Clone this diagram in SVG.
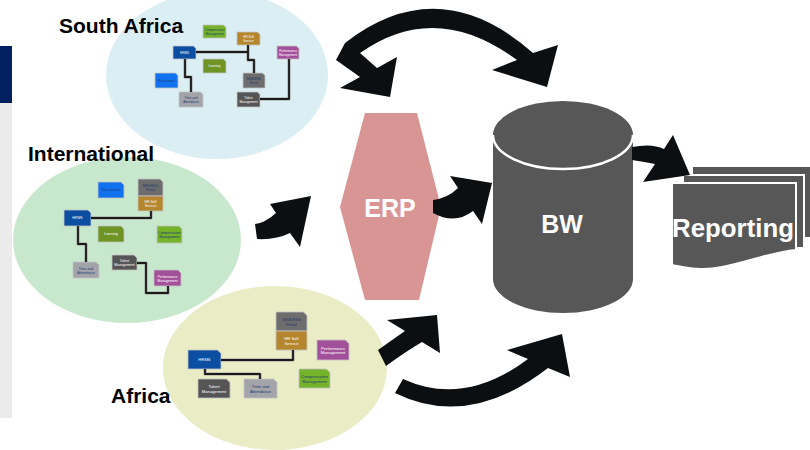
<svg xmlns="http://www.w3.org/2000/svg" width="810" height="450" viewBox="0 0 810 450">
  <style>
    .lbl { font-family: "Liberation Sans", Arial, sans-serif; font-weight: bold; font-size: 21px; fill: #000; }
    .big { font-family: "Liberation Sans", Arial, sans-serif; font-weight: bold; font-size: 25px; fill: #fff; text-anchor: middle; }
    .rep { font-size: 25.8px; }
    .box { stroke: #c4c4c4; stroke-width: 0.8; }
    .t { font-family: "Liberation Sans", Arial, sans-serif; text-anchor: middle; }
    .s1 { font-size: 3.1px; }
    .s2 { font-size: 3.5px; }
    .s3 { font-size: 4.2px; }
    .lt { fill: #ffffff; }
    .dk { fill: #1f3a70; }
    .hrms { fill: #0b4ea2; }
    .recr { fill: #1172f0; }
    .learn { fill: #6e9424; }
    .comp { fill: #74b32a; }
    .hrss { fill: #b5862e; }
    .mss { fill: #6d6d6d; }
    .perf { fill: #a3509a; }
    .talent { fill: #555555; }
    .time { fill: #a2a4aa; }
    .halo { fill: none; stroke: #9a9a9a; stroke-width: 3; stroke-linejoin: round; }
    .wire { fill: none; stroke: #1a1a1a; stroke-width: 1.8; stroke-linejoin: round; }
    .arrow { fill: #0c0f11; }
    .page { fill: #575757; stroke: #ffffff; stroke-width: 2; }
  </style>

  <!-- side bar -->
  <rect x="0" y="46" width="12" height="57" fill="#002060"/>
  <rect x="0" y="103" width="12" height="315" fill="#ebebeb"/>

  <!-- regional clusters -->
  <g id="south-africa">
    <ellipse cx="217" cy="75" rx="111" ry="84" fill="#dbeef3"/>
    <text class="lbl" x="59" y="33">South Africa</text>
  </g>
  <g id="international">
    <ellipse cx="127" cy="240" rx="114" ry="83" fill="#c8e8cd"/>
    <text class="lbl" x="28" y="161">International</text>
  </g>
  <g id="africa">
    <ellipse cx="275" cy="368" rx="112" ry="82" fill="#eaecc6"/>
    <text class="lbl" x="111" y="403">Africa</text>
  </g>

  <!-- central systems -->
  <g id="erp">
    <polygon points="365,113 417,113 441,207 419,300 365,300 340,207" fill="#d99594"/>
    <text class="big" x="390" y="217">ERP</text>
  </g>
  <g id="bw">
    <path d="M493,135 V279 A70,34 0 0 0 633,279 V135 A70,34 0 0 0 493,135 Z" fill="#575757"/>
    <path d="M493,135 A70,34 0 0 0 633,135" fill="none" stroke="#ffffff" stroke-width="2.5"/>
    <text class="big" x="562" y="233">BW</text>
  </g>
  <g id="reporting">
    <rect class="page" x="692" y="166" width="122" height="72"/>
    <rect class="page" x="683" y="175" width="121" height="73"/>
    <path class="page" d="M672,183 H796 V250 C772,252 748,262 722,267 C702,271 688,268 672,265 Z"/>
    <text class="big rep" x="733" y="237">Reporting</text>
  </g>

  <!-- South Africa modules -->
  <g id="sa-hrms"><path class="box hrms" d="M173,46 H193.5 L196,48.5 V59 H173 Z"/><text class="t s1 lt" x="184.5" y="53.6">HRMS</text></g>
  <g id="sa-comp"><path class="box comp" d="M203,25 H223.5 L226,27.5 V38 H203 Z"/><text class="t s1 dk" x="214.5" y="31">Compensation</text><text class="t s1 dk" x="214.5" y="34.5">Management</text></g>
  <g id="sa-hrss"><path class="box hrss" d="M237,32 H257.5 L260,34.5 V45 H237 Z"/><text class="t s1 lt" x="248.5" y="38">HR Self</text><text class="t s1 lt" x="248.5" y="41.5">Service</text></g>
  <g id="sa-perf"><path class="box perf" d="M277,46 H296.5 L299,48.5 V59 H277 Z"/><text class="t s1 lt" x="288" y="52">Performance</text><text class="t s1 lt" x="288" y="55.5">Management</text></g>
  <g id="sa-learn"><path class="box learn" d="M203,59 H223.5 L226,61.5 V73 H203 Z"/><text class="t s1 lt" x="214.5" y="67">Learning</text></g>
  <g id="sa-recr"><path class="box recr" d="M155,73 H175.5 L178,75.5 V88 H155 Z"/><text class="t s1 dk" x="166.5" y="81.5">Recruitment</text></g>
  <g id="sa-mss"><path class="box mss" d="M243,73 H262.5 L265,75.5 V88 H243 Z"/><text class="t s1 dk" x="254" y="80">MSS/ESS</text><text class="t s1 dk" x="254" y="83.5">Portal</text></g>
  <g id="sa-time"><path class="box time" d="M179,92 H200.5 L203,94.5 V107 H179 Z"/><text class="t s1 dk" x="191" y="99">Time and</text><text class="t s1 dk" x="191" y="102.5">Attendance</text></g>
  <g id="sa-talent"><path class="box talent" d="M237,92 H257.5 L260,94.5 V107 H237 Z"/><text class="t s1 lt" x="248.5" y="99">Talent</text><text class="t s1 lt" x="248.5" y="102.5">Management</text></g>

  <!-- International modules -->
  <g id="int-recr"><path class="box recr" d="M98,182 H121 L124,185 V198 H98 Z"/><text class="t s2 dk" x="111" y="191.2">Recruitment</text></g>
  <g id="int-mss"><path class="box mss" d="M138,179 H160 L163,182 V196 H138 Z"/><text class="t s2 dk" x="150.5" y="186.5">MSS/ESS</text><text class="t s2 dk" x="150.5" y="190.5">Portal</text></g>
  <g id="int-hrss"><path class="box hrss" d="M138,196 H163 V211 H138 Z"/><text class="t s2 lt" x="150.5" y="203">HR Self</text><text class="t s2 lt" x="150.5" y="207">Service</text></g>
  <g id="int-hrms"><path class="box hrms" d="M64,210 H88 L91,213 V226 H64 Z"/><text class="t s2 lt" x="77.5" y="219.2">HRMS</text></g>
  <g id="int-learn"><path class="box learn" d="M98,226 H121 L124,229 V242 H98 Z"/><text class="t s2 lt" x="111" y="235.2">Learning</text></g>
  <g id="int-comp"><path class="box comp" d="M157,226 H179 L182,229 V243 H157 Z"/><text class="t s2 dk" x="169.5" y="233.5">Compensation</text><text class="t s2 dk" x="169.5" y="237.5">Management</text></g>
  <g id="int-talent"><path class="box talent" d="M112,255 H134 L137,258 V270 H112 Z"/><text class="t s2 lt" x="124.5" y="261.5">Talent</text><text class="t s2 lt" x="124.5" y="265.5">Management</text></g>
  <g id="int-time"><path class="box time" d="M73,262 H96 L99,265 V278 H73 Z"/><text class="t s2 dk" x="86" y="269.5">Time and</text><text class="t s2 dk" x="86" y="273.5">Attendance</text></g>
  <g id="int-perf"><path class="box perf" d="M154,270 H178 L181,273 V286 H154 Z"/><text class="t s2 lt" x="167.5" y="277.5">Performance</text><text class="t s2 lt" x="167.5" y="281.5">Management</text></g>

  <!-- Africa modules -->
  <g id="af-mss"><path class="box mss" d="M276,312 H303.5 L307,315.5 V331 H276 Z"/><text class="t s3 dk" x="291.5" y="321">MSS/ESS</text><text class="t s3 dk" x="291.5" y="325.8">Portal</text></g>
  <g id="af-hrss"><path class="box hrss" d="M276,331 H307 V350 H276 Z"/><text class="t s3 lt" x="291.5" y="340">HR Self</text><text class="t s3 lt" x="291.5" y="344.8">Service</text></g>
  <g id="af-hrms"><path class="box hrms" d="M188,350 H217.5 L221,353.5 V369 H188 Z"/><text class="t s3 lt" x="204.5" y="361">HRMS</text></g>
  <g id="af-perf"><path class="box perf" d="M317,340 H345.5 L349,343.5 V360 H317 Z"/><text class="t s3 lt" x="333" y="349.5">Performance</text><text class="t s3 lt" x="333" y="354.3">Management</text></g>
  <g id="af-comp"><path class="box comp" d="M299,369 H326.5 L330,372.5 V388 H299 Z"/><text class="t s3 dk" x="314.5" y="378">Compensation</text><text class="t s3 dk" x="314.5" y="382.8">Management</text></g>
  <g id="af-talent"><path class="box talent" d="M198,379 H226.5 L230,382.5 V398 H198 Z"/><text class="t s3 lt" x="214" y="388">Talent</text><text class="t s3 lt" x="214" y="392.8">Management</text></g>
  <g id="af-time"><path class="box time" d="M244,379 H273.5 L277,382.5 V398 H244 Z"/><text class="t s3 dk" x="260.5" y="388">Time and</text><text class="t s3 dk" x="260.5" y="392.8">Attendance</text></g>

  <g id="connectors">
    <!-- module links inside each region -->
    <g>
      <path class="halo" d="M196,52 H248 M248,45 V60 H254 V73 M185,59 V77 H191 V92 M260,99 H289 V59"/>
      <path class="wire" d="M196,52 H248 M248,45 V60 H254 V73 M185,59 V77 H191 V92 M260,99 H289 V59"/>
      <path class="halo" d="M91,218 H151 V211 M78,226 V244 H86 V262 M137,263 H146 V293 H168 V286"/>
      <path class="wire" d="M91,218 H151 V211 M78,226 V244 H86 V262 M137,263 H146 V293 H168 V286"/>
      <path class="halo" d="M221,360 H293 V350 M205,369 V374 H260 V379"/>
      <path class="wire" d="M221,360 H293 V350 M205,369 V374 H260 V379"/>
    </g>
    <!-- data flow arrows -->
    <path class="arrow" d="M345,43 Q439,-30 533,53 L558,45 L547,87 L492,70 L517,60 Q435.5,-0.5 360,53 L377,68 L397,57 L390,97 L340,88 L360,77 L336,60 Z"/>
    <path class="arrow" d="M255,224 Q265,223 276,213 L270,204 L311,196 L300,247 L290,233 Q276,240 257,239 Z"/>
    <path class="arrow" d="M433,200 Q448,198 458,188 L450,176 L492,183 L482,224 L473,211 Q455,225 433,213 Z"/>
    <path class="arrow" d="M632,147 Q652,143 664,149 L673,135 L690,175 L643,182 L655,164 Q645,162 632,160 Z"/>
    <path class="arrow" d="M378,350 Q392,340 405,331 L387,320 L437,315 L440,353 L422,342 Q405,352 386,366 Z"/>
    <path class="arrow" d="M403,379 Q464.5,407 528,359 L507,350 L562,334 L570,377 L548,368 Q468.5,429.5 395,393 Z"/>
  </g>
</svg>
